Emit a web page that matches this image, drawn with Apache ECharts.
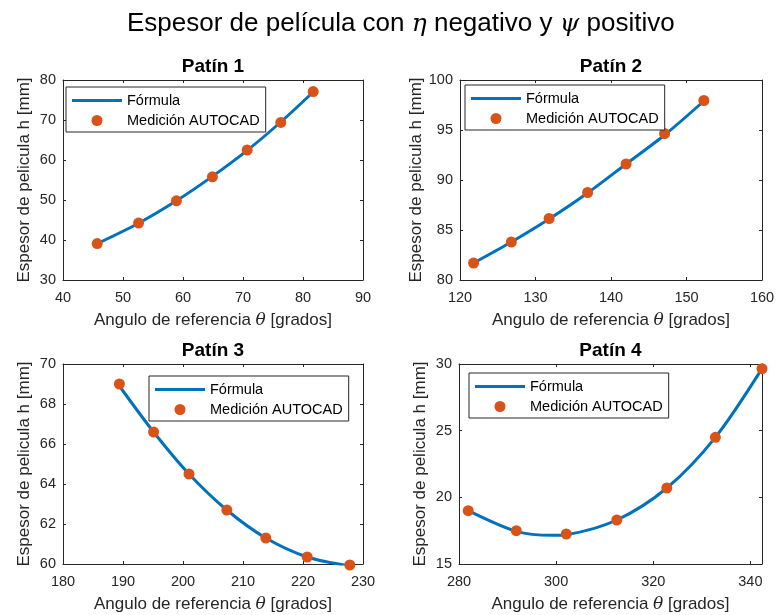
<!DOCTYPE html>
<html>
<head>
<meta charset="utf-8">
<script src="https://cdn.jsdelivr.net/npm/echarts@6/dist/echarts.min.js"></script>
<style>
  html, body { margin: 0; padding: 0; background: #ffffff; }
  #chart { width: 776px; height: 615px; }
</style>
</head>
<body>
<div id="chart"></div>
<script>
// Measured film thickness (AUTOCAD) per pad: reference angle [deg] and thickness h [mm]
const theta1 = [45.7, 52.6, 58.9, 64.9, 70.7, 76.3, 81.7];
const h1     = [39.1, 44.25, 49.8, 55.8, 62.5, 69.4, 77.1];
const theta2 = [121.8, 126.8, 131.8, 136.9, 142.0, 147.1, 152.3];
const h2     = [81.7, 83.8, 86.15, 88.75, 91.6, 94.65, 97.95];
const theta3 = [189.4, 195.1, 201.0, 207.3, 213.8, 220.7, 227.8];
const h3     = [69.0, 66.6, 64.5, 62.7, 61.3, 60.35, 59.95];
const theta4 = [281.9, 291.8, 302.1, 312.5, 322.8, 332.8, 342.4];
const h4     = [19.0, 17.5, 17.25, 18.3, 20.7, 24.5, 29.65];

// Formula curve samples per pad
const formulaTheta1 = [45.7, 52.6, 58.9, 64.9, 70.7, 76.3, 81.7];
const formulaH1     = [39.1, 44.2, 49.8, 55.9, 62.4, 69.5, 77.0];
const formulaTheta2 = [121.8, 126.8, 131.8, 136.9, 142.0, 147.1, 152.3];
const formulaH2     = [81.7, 83.8, 86.1, 88.7, 91.6, 94.5, 97.9];
const formulaTheta3 = [189.4, 195.1, 201.0, 207.3, 213.8, 220.7, 227.8];
const formulaH3     = [68.9, 66.6, 64.5, 62.7, 61.3, 60.35, 59.9];
const formulaTheta4 = [281.9, 291.8, 299.2, 302.1, 312.5, 322.8, 332.8, 342.4];
const formulaH4     = [19.0, 17.45, 17.15, 17.2, 18.3, 20.7, 24.5, 29.65];

// Axis ranges and tick steps
const xRanges = [[40, 90, 10], [120, 160, 10], [180, 230, 10], [280, 342.4, 20]];
const yRanges = [[30, 80, 10], [80, 100, 5], [60, 70, 2], [15, 30, 5]];

const padTitles = ['Patín 1', 'Patín 2', 'Patín 3', 'Patín 4'];
const xLabel = 'Angulo de referencia {i|θ} [grados]';
const yLabel = 'Espesor de pelicula h [mm]';
const nameLine = 'Fórmula';
const nameDots = 'Medición AUTOCAD';

const measured = [[theta1, h1], [theta2, h2], [theta3, h3], [theta4, h4]];
const formula = [[formulaTheta1, formulaH1], [formulaTheta2, formulaH2],
                 [formulaTheta3, formulaH3], [formulaTheta4, formulaH4]];

// Layout of the four panels
const grids = [
  { left: 63,  top: 80,  width: 300, height: 200 },
  { left: 460, top: 80,  width: 302, height: 200 },
  { left: 63,  top: 364, width: 300, height: 200 },
  { left: 459, top: 364, width: 303, height: 200 }
];
const legendPos = [
  { left: 66,  top: 87 },
  { left: 465, top: 85 },
  { left: 149, top: 376 },
  { left: 469, top: 373 }
];

const FONT = '"Liberation Sans", Arial, Helvetica, sans-serif';
const AX = '#262626';
const BLUE = '#0072BD';
const ORANGE = '#D95319';

const zip = (a, b) => a.map((v, i) => [v, b[i]]);

const xAxes = [], yAxes = [], series = [], legends = [];

grids.forEach((g, i) => {
  const [xmin, xmax, xstep] = xRanges[i];
  const [ymin, ymax, ystep] = yRanges[i];
  const lineStyle = { color: AX, width: 1 };
  const common = {
    type: 'value',
    gridIndex: i,
    splitLine: { show: false },
    axisLine: { show: true, onZero: false, lineStyle },
    axisTick: { show: true, inside: true, length: 3, lineStyle }
  };
  // bottom x axis (labels + name)
  xAxes.push(Object.assign({}, common, {
    position: 'bottom', min: xmin, max: xmax, interval: xstep,
    axisLabel: { show: true, fontSize: 14.5, color: AX, fontFamily: FONT, margin: 10,
                 showMaxLabel: xmax % xstep === 0 },
    name: xLabel, nameLocation: 'middle', nameGap: 32,
    nameTextStyle: {
      fontSize: 17, color: AX, fontFamily: FONT,
      rich: { i: { fontSize: 17, color: AX, fontFamily: '"DejaVu Serif", serif', fontStyle: 'italic' } }
    }
  }));
  // top x axis (frame + ticks + panel title)
  xAxes.push(Object.assign({}, common, {
    position: 'top', min: xmin, max: xmax, interval: xstep,
    axisLabel: { show: false },
    name: padTitles[i], nameLocation: 'middle', nameGap: 4,
    nameTextStyle: { fontSize: 19, fontWeight: 'bold', color: '#000', fontFamily: FONT,
                     verticalAlign: 'bottom' }
  }));
  // left y axis
  yAxes.push(Object.assign({}, common, {
    position: 'left', min: ymin, max: ymax, interval: ystep,
    axisLabel: { show: true, fontSize: 14.5, color: AX, fontFamily: FONT, margin: 7 },
    name: yLabel, nameLocation: 'middle', nameGap: 30,
    nameTextStyle: { fontSize: 17, color: AX, fontFamily: FONT }
  }));
  // right y axis (frame + ticks)
  yAxes.push(Object.assign({}, common, {
    position: 'right', min: ymin, max: ymax, interval: ystep,
    axisLabel: { show: false }
  }));

  series.push({
    name: nameLine, type: 'line',
    xAxisIndex: 2 * i, yAxisIndex: 2 * i,
    data: zip(formula[i][0], formula[i][1]),
    smooth: 0.3, showSymbol: false, symbol: 'none',
    lineStyle: { color: BLUE, width: 3 },
    itemStyle: { color: BLUE },
    z: 2
  });
  series.push({
    name: nameDots, type: 'scatter',
    xAxisIndex: 2 * i, yAxisIndex: 2 * i,
    data: zip(measured[i][0], measured[i][1]),
    symbol: 'circle', symbolSize: 11,
    itemStyle: { color: ORANGE, opacity: 1 },
    clip: false,
    z: 3
  });

  legends.push({
    left: legendPos[i].left, top: legendPos[i].top,
    orient: 'vertical',
    itemWidth: 50, itemHeight: 11, itemGap: 5,
    padding: [6, 6, 4, 6],
    borderColor: AX, borderWidth: 1, borderRadius: 0,
    backgroundColor: '#ffffff',
    selectedMode: false,
    textStyle: { fontSize: 14.5, color: '#000', fontFamily: FONT },
    data: [
      { name: nameLine, icon: 'path://M0,0H50V3H0Z', itemStyle: { color: BLUE } },
      { name: nameDots, icon: 'circle', itemStyle: { color: ORANGE, opacity: 1 } }
    ]
  });
});

const chart = echarts.init(document.getElementById('chart'), null, { renderer: 'canvas' });
chart.setOption({
  animation: false,
  backgroundColor: '#ffffff',
  title: {
    text: 'Espesor de película con {g|η} negativo y {g|ψ} positivo',
    left: 122, top: 6,
    textStyle: {
      fontSize: 26, fontWeight: 'normal', color: '#000', fontFamily: FONT,
      rich: { g: { fontSize: 25, color: '#000', fontFamily: '"DejaVu Serif", serif', fontStyle: 'italic' } }
    }
  },
  grid: grids.map(g => Object.assign({ containLabel: false, outerBoundsMode: 'none' }, g)),
  xAxis: xAxes,
  yAxis: yAxes,
  legend: legends,
  series: series
});
</script>
</body>
</html>
